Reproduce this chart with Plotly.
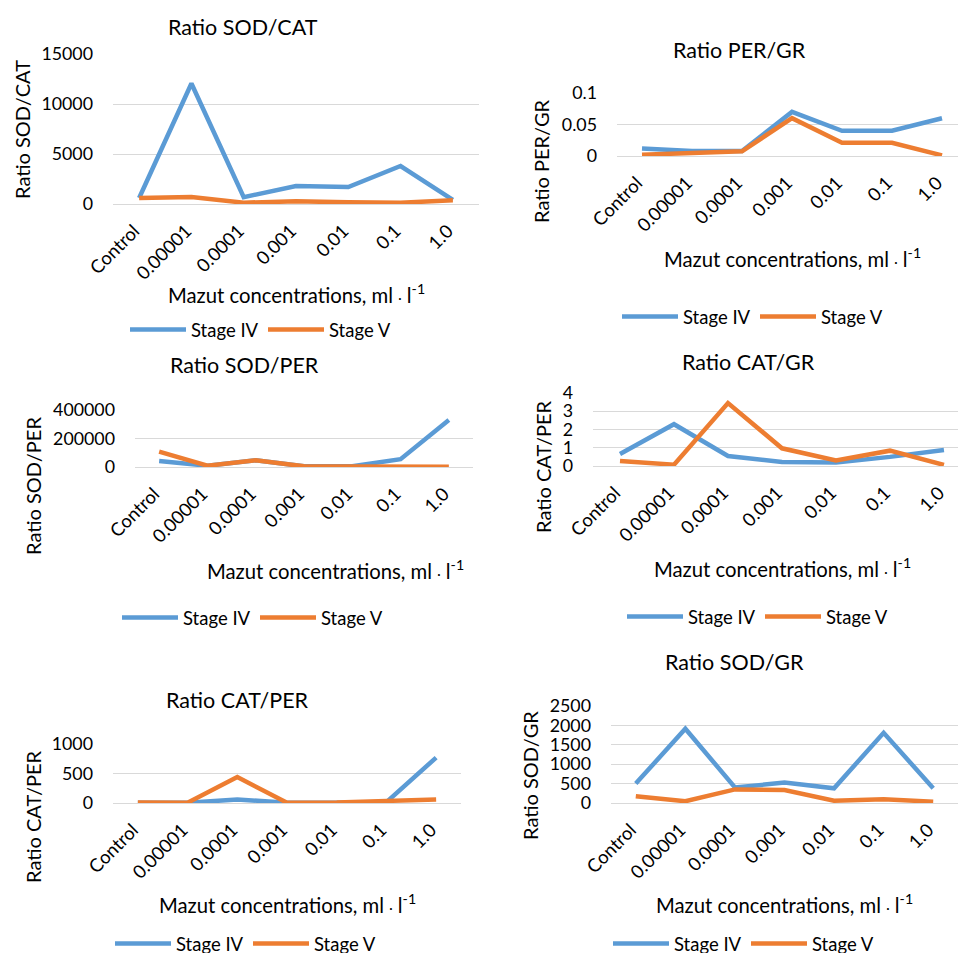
import plotly.graph_objects as go

W, H = 958, 953

categories = ["Control", "0.00001", "0.0001", "0.001", "0.01", "0.1", "1.0"]
series_names = ["Stage IV", "Stage V"]

sod_cat_iv = [600, 12050, 680, 1800, 1700, 3800, 420]
sod_cat_v = [600, 700, 130, 270, 170, 130, 370]

per_gr_iv = [0.012, 0.008, 0.008, 0.07, 0.04, 0.04, 0.06]
per_gr_v = [0.002, 0.005, 0.0075, 0.06, 0.021, 0.021, 0.001]

sod_per_iv = [42000, 9000, 47000, 5000, 5000, 55000, 330000]
sod_per_v = [108000, 9000, 47000, 5000, 3000, 3000, 2000]

cat_gr_iv = [0.66, 2.29, 0.55, 0.22, 0.19, 0.5, 0.88]
cat_gr_v = [0.28, 0.07, 3.45, 0.97, 0.31, 0.84, 0.06]

cat_per_iv = [6, 3, 60, 5, 5, 15, 770]
cat_per_v = [10, 5, 440, 5, 10, 40, 60]

sod_gr_iv = [500, 1915, 400, 525, 380, 1810, 380]
sod_gr_v = [175, 45, 350, 335, 60, 95, 35]

titles = ["Ratio SOD/CAT", "Ratio PER/GR", "Ratio SOD/PER", "Ratio CAT/GR", "Ratio CAT/PER", "Ratio SOD/GR"]
ytitles = ["Ratio SOD/CAT", "Ratio PER/GR", "Ratio SOD/PER", "Ratio CAT/PER", "Ratio CAT/PER", "Ratio SOD/GR"]
xtitle = "Mazut concentrations, ml <span style='font-size:13px'>·</span> l<sup>-1</sup>"

data = [
    (sod_cat_iv, sod_cat_v),
    (per_gr_iv, per_gr_v),
    (sod_per_iv, sod_per_v),
    (cat_gr_iv, cat_gr_v),
    (cat_per_iv, cat_per_v),
    (sod_gr_iv, sod_gr_v),
]

# layout geometry in pixels (left, right, top, bottom)
panels = [
    dict(x0=113, x1=479, y0=54, y1=204, yr=[0, 15000], dt=5000, xr=[-0.5, 6.5], fmt="d",
         title=(243, 27), ytit=(22, 130), xtit=(296, 293), leg=(130, 330)),
    dict(x0=617, x1=958, y0=93, y1=156, yr=[0, 0.1], dt=0.05, xr=[-0.5, 6.32], fmt="",
         title=(739, 50), ytit=(541, 161), xtit=(792, 257), leg=(622, 317)),
    dict(x0=135, x1=473, y0=410, y1=467, yr=[0, 400000], dt=200000, xr=[-0.5, 6.5], fmt="d",
         title=(244, 365), ytit=(33, 486), xtit=(335, 569), leg=(122, 618)),
    dict(x0=593, x1=958, y0=393, y1=466, yr=[0, 4], dt=1, xr=[-0.5, 6.26], fmt="d",
         title=(748, 362), ytit=(543, 467), xtit=(782, 567), leg=(627, 617)),
    dict(x0=113, x1=461, y0=744, y1=803, yr=[0, 1000], dt=500, xr=[-0.5, 6.5], fmt="d",
         title=(237, 700), ytit=(33, 817), xtit=(287, 903), leg=(115, 944)),
    dict(x0=611, x1=958, y0=706, y1=803, yr=[0, 2500], dt=500, xr=[-0.5, 6.5], fmt="d",
         title=(734, 662), ytit=(530, 776), xtit=(784, 903), leg=(613, 944)),
]

FONT = "Lato"
BLUE = "#5B9BD5"
ORANGE = "#ED7D31"
GRID = "#D9D9D9"
TXT = "#000000"

def px(x):
    return x / W

def py(y):
    return 1 - y / H

fig = go.Figure()
annotations = []
layout = {}

for i, (p, (iv, v)) in enumerate(zip(panels, data)):
    n = i + 1
    xa = "x" if n == 1 else f"x{n}"
    ya = "y" if n == 1 else f"y{n}"
    lg = "legend" if n == 1 else f"legend{n}"
    for name, vals, col in zip(series_names, (iv, v), (BLUE, ORANGE)):
        fig.add_trace(go.Scatter(
            x=categories, y=vals, name=name, mode="lines",
            line=dict(color=col, width=4.5),
            xaxis=xa, yaxis=ya, legend=lg, showlegend=True,
        ))
    xkey = "xaxis" if n == 1 else f"xaxis{n}"
    ykey = "yaxis" if n == 1 else f"yaxis{n}"
    layout[xkey] = dict(
        domain=[px(p["x0"]), px(p["x1"])], anchor=ya, type="category",
        range=p["xr"], tickangle=-45, showgrid=False, zeroline=False,
        showline=True, linecolor=GRID, linewidth=1, ticks="",
        tickfont=dict(family=FONT, size=18.5, color=TXT), fixedrange=True,
        ticklabelshift=-5, ticklabelstandoff=8,
        automargin=False,
    )
    layout[ykey] = dict(
        domain=[py(p["y1"]), py(p["y0"])], anchor=xa, range=p["yr"],
        dtick=p["dt"], tickformat=p["fmt"], showgrid=True, gridcolor=GRID, gridwidth=1,
        zeroline=False, showline=False, ticks="",
        tickfont=dict(family=FONT, size=17.8, color=TXT), ticklabelstandoff=19,
        fixedrange=True, automargin=False,
    )
    layout[lg] = dict(
        orientation="h", x=px(p["leg"][0] - 5), y=py(p["leg"][1]),
        xanchor="left", yanchor="middle", bgcolor="rgba(0,0,0,0)",
        font=dict(family=FONT, size=18.5, color=TXT),
        itemwidth=56, entrywidth=67, entrywidthmode="pixels",
    )
    annotations.append(dict(
        text=titles[i], x=px(p["title"][0]), y=py(p["title"][1]),
        xref="paper", yref="paper", showarrow=False,
        xanchor="center", yanchor="middle",
        font=dict(family=FONT, size=21.5, color=TXT),
    ))
    annotations.append(dict(
        text=ytitles[i], x=px(p["ytit"][0]), y=py(p["ytit"][1]),
        xref="paper", yref="paper", showarrow=False, textangle=-90,
        xanchor="center", yanchor="middle",
        font=dict(family=FONT, size=20, color=TXT),
    ))
    annotations.append(dict(
        text=xtitle, x=px(p["xtit"][0]), y=py(p["xtit"][1]),
        xref="paper", yref="paper", showarrow=False,
        xanchor="center", yanchor="middle",
        font=dict(family=FONT, size=20.3, color=TXT),
    ))

fig.update_layout(
    width=W, height=H, margin=dict(l=0, r=0, t=0, b=0, autoexpand=False),
    paper_bgcolor="white", plot_bgcolor="white",
    annotations=annotations, **layout,
)

fig.write_html(
    "out.html",
    config={"displayModeBar": False},
    post_script="document.body.style.margin='0px';document.body.style.overflow='hidden';",
)
